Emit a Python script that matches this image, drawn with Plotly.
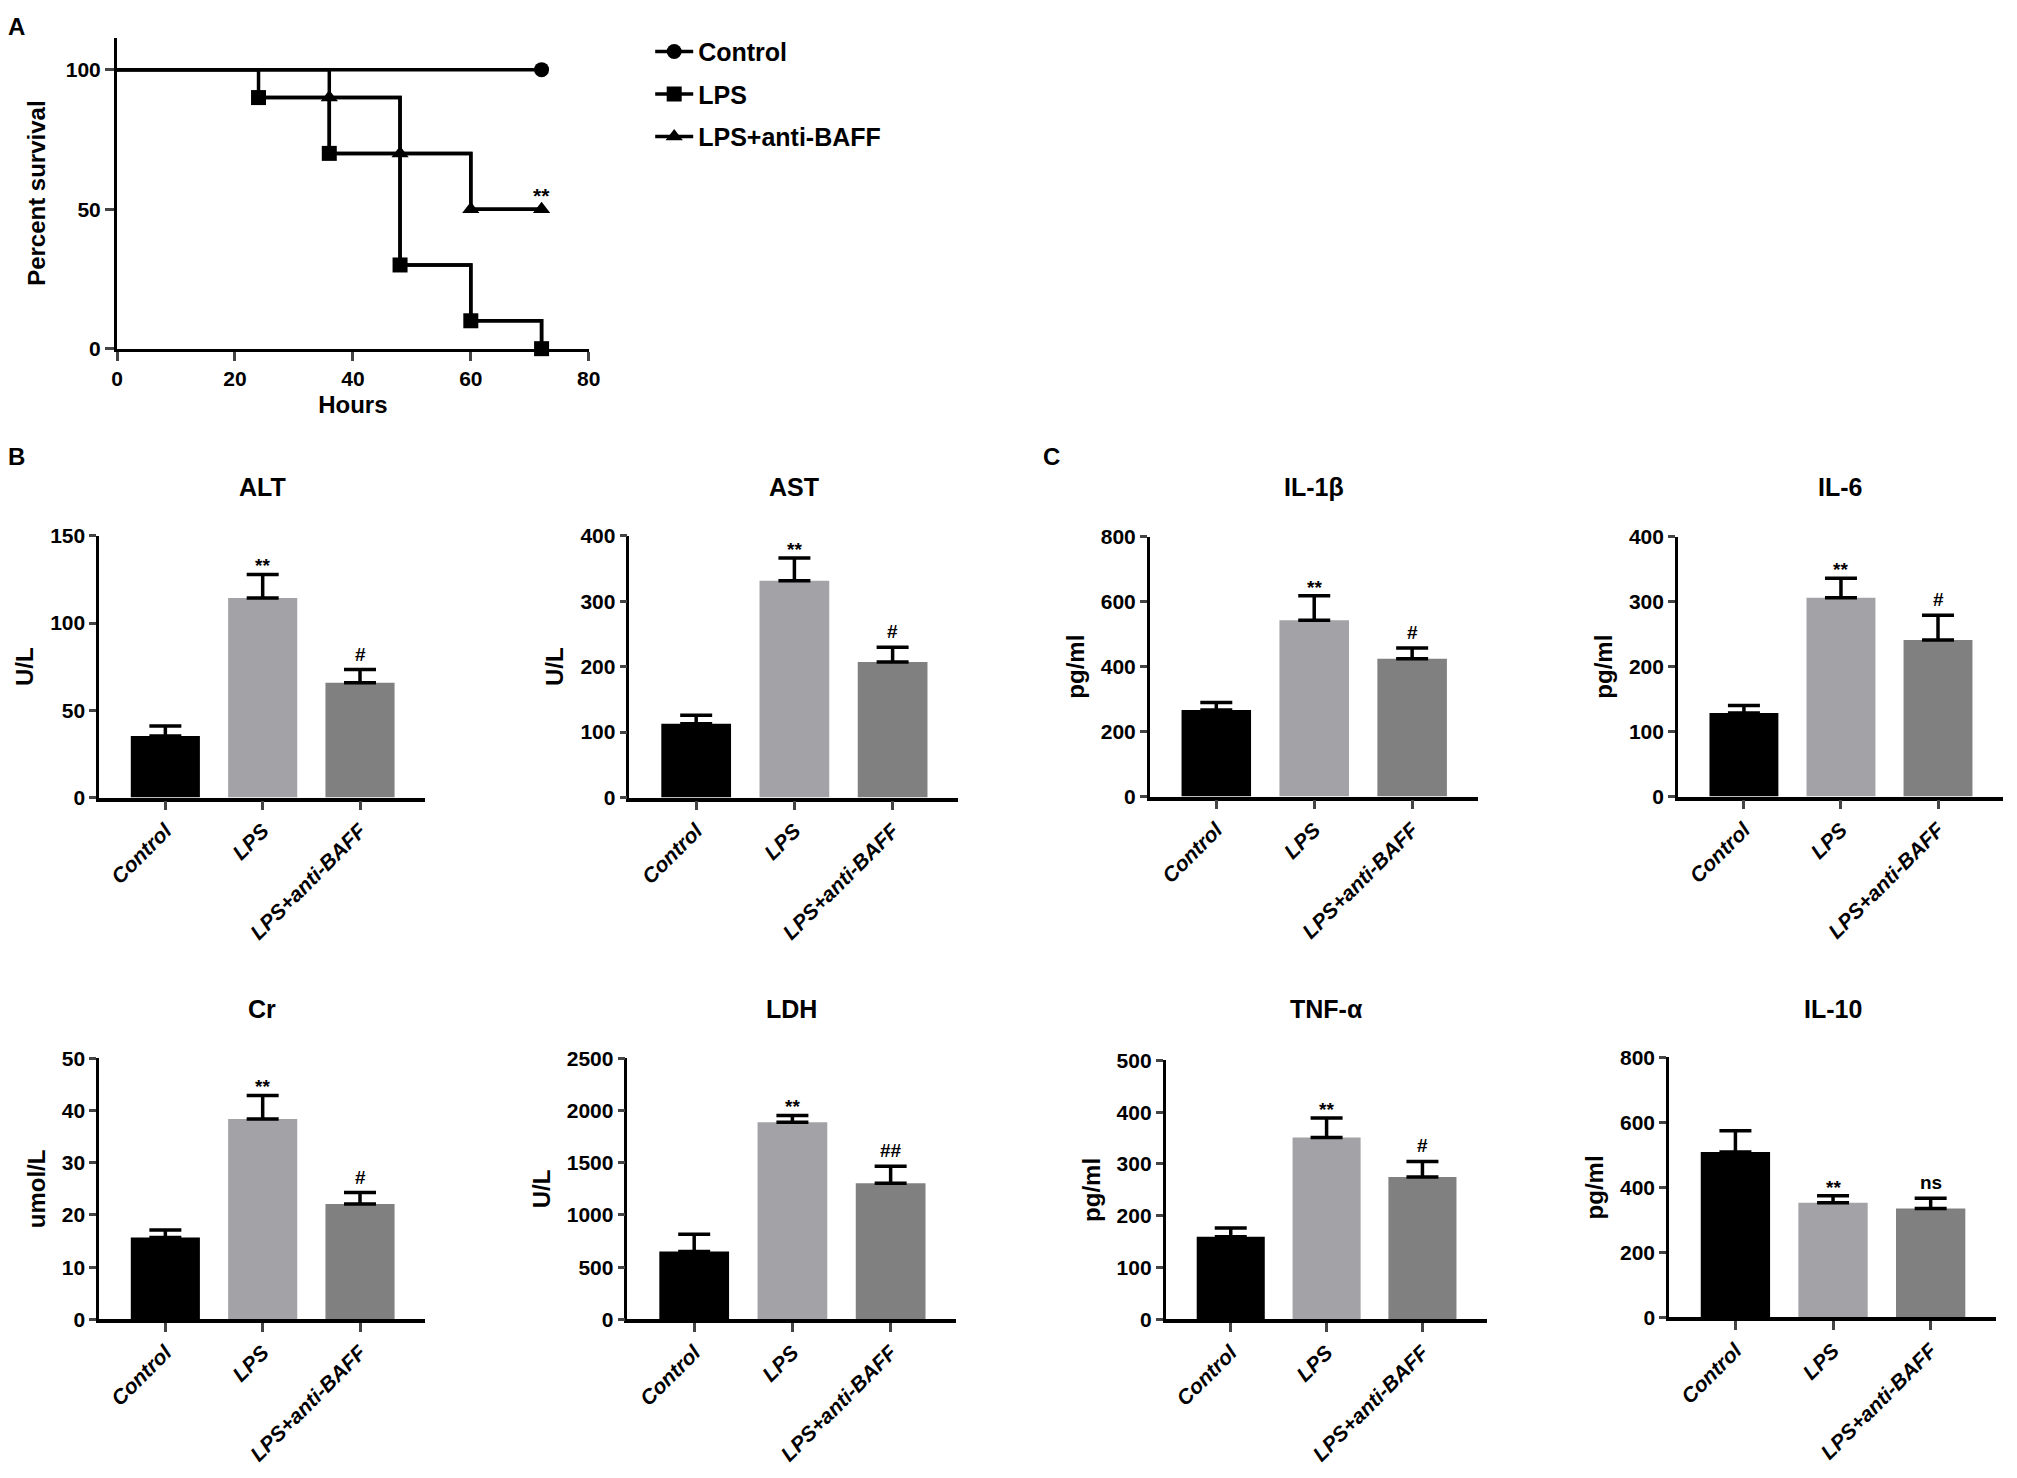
import plotly.graph_objects as go

W, H = 2017, 1478

# ---- panel A: survival curves ----
hours_control = [0, 72]
survival_control = [100, 100]
hours_lps = [0, 24, 36, 48, 60, 72]
survival_lps = [100, 90, 70, 30, 10, 0]
hours_anti = [0, 36, 48, 60, 72]
survival_anti = [100, 90, 70, 50, 50]

# ---- panels B and C: bar charts (mean + upper SD) ----
groups = ["Control", "LPS", "LPS+anti-BAFF"]

alt_mean = [35.3, 114.3, 65.8]
alt_err = [5.7, 13.5, 7.5]
alt_sig = ["", "**", "#"]

ast_mean = [112.8, 331.3, 207.0]
ast_err = [13.0, 34.7, 22.6]
ast_sig = ["", "**", "#"]

cr_mean = [15.7, 38.4, 22.1]
cr_err = [1.4, 4.5, 2.2]
cr_sig = ["", "**", "#"]

ldh_mean = [649, 1888, 1305]
ldh_err = [167, 66, 163]
ldh_sig = ["", "**", "##"]

il1b_mean = [266.7, 543, 424]
il1b_err = [23.3, 75, 33.6]
il1b_sig = ["", "**", "#"]

il6_mean = [128.8, 306, 241]
il6_err = [11.6, 30, 38]
il6_sig = ["", "**", "#"]

tnf_mean = [159.5, 351, 275]
tnf_err = [17.1, 37.6, 30]
tnf_sig = ["", "**", "#"]

il10_mean = [509, 352.5, 335]
il10_err = [65.7, 22.2, 32]
il10_sig = ["", "**", "ns"]

bar_colors = ["#000000", "#a2a2a7", "#808080"]
FONT = "Liberation Sans, Arial, sans-serif"


def fx(px):
    return px / W


def fy(py):
    return 1 - py / H


fig = go.Figure()

# survival curves: full step line, then the event markers (this one carries the legend entry)
for name, hx, sy, symbol in [("Control", hours_control, survival_control, "circle"),
                             ("LPS", hours_lps, survival_lps, "square"),
                             ("LPS+anti-BAFF", hours_anti, survival_anti, "triangle-up")]:
    fig.add_trace(go.Scatter(
        x=hx, y=sy, mode="lines", line_shape="hv", line=dict(color="black", width=3.5),
        showlegend=False, hoverinfo="skip", xaxis="x", yaxis="y",
    ))
    fig.add_trace(go.Scatter(
        x=hx[1:], y=sy[1:], name=name, mode="lines+markers", line_shape="hv",
        line=dict(color="black", width=3.5),
        marker=dict(symbol=symbol, size=15, color="black"),
        cliponaxis=False, legendgroup=name, xaxis="x", yaxis="y",
    ))

fig.update_layout(
    xaxis=dict(domain=[fx(112), fx(588)], anchor="y", range=[0, 80], dtick=20,
               showline=True, linewidth=3, linecolor="black", ticks="outside", ticklen=9,
               tickwidth=3, tickfont=dict(size=21, weight="bold"), showgrid=False, zeroline=False,
               title=dict(text="Hours", font=dict(size=24, weight="bold"), standoff=8)),
    yaxis=dict(domain=[fy(342), fy(26)], anchor="x", range=[0, 111.5], tickvals=[0, 50, 100],
               showline=True, linewidth=3, linecolor="black", ticks="outside", ticklen=9,
               tickwidth=3, tickfont=dict(size=21, weight="bold"), showgrid=False, zeroline=False,
               title=dict(text="Percent survival", font=dict(size=24, weight="bold"), standoff=14)),
)
fig.add_annotation(x=hours_anti[-1], y=survival_anti[-1], xref="x", yref="y", text="**",
                   showarrow=False, yanchor="bottom", yshift=0, font=dict(size=21, weight="bold"))

# bar panels: (title, unit, mean, err, sig, ymax, dtick, left px, top px, bottom px, width px)
panels = [
    ("ALT", "U/L", alt_mean, alt_err, alt_sig, 150, 50, 94, 532, 798, 329),
    ("AST", "U/L", ast_mean, ast_err, ast_sig, 400, 100, 629, 532, 798, 332),
    ("IL-1β", "pg/ml", il1b_mean, il1b_err, il1b_sig, 800, 200, 1154, 533, 797, 331),
    ("IL-6", "pg/ml", il6_mean, il6_err, il6_sig, 400, 100, 1687, 533, 797, 328),
    ("Cr", "umol/L", cr_mean, cr_err, cr_sig, 50, 10, 94, 1063, 1328, 329),
    ("LDH", "U/L", ldh_mean, ldh_err, ldh_sig, 2500, 500, 627, 1063, 1328, 332),
    ("TNF-α", "pg/ml", tnf_mean, tnf_err, tnf_sig, 500, 100, 1170, 1065, 1328, 324),
    ("IL-10", "pg/ml", il10_mean, il10_err, il10_sig, 800, 200, 1678, 1062, 1326, 330),
]

for k, (title, unit, mean, err, sig, ymax, dtick, left, top, bottom, width) in enumerate(panels):
    i = k + 2
    fig.add_trace(go.Bar(
        x=groups, y=mean, marker=dict(color=bar_colors, line=dict(width=0)), width=0.71,
        error_y=dict(type="data", array=err, arrayminus=[0] * len(err), symmetric=False,
                     color="black", thickness=3.5, width=16),
        xaxis=f"x{i}", yaxis=f"y{i}", showlegend=False,
    ))
    fig.layout[f"xaxis{i}"] = dict(
        domain=[fx(left), fx(left + width)], anchor=f"y{i}", range=[-0.68, 2.67],
        showline=True, linewidth=3.5, linecolor="black", ticks="outside", ticklen=9, tickwidth=3,
        tickangle=-45, tickfont=dict(size=21, weight="bold", style="italic"),
        showgrid=False, zeroline=False)
    fig.layout[f"yaxis{i}"] = dict(
        domain=[fy(bottom), fy(top)], anchor=f"x{i}", range=[0, ymax], dtick=dtick,
        showline=True, linewidth=2.5, linecolor="black", ticks="outside", ticklen=7, tickwidth=2.5,
        tickfont=dict(size=21, weight="bold"), showgrid=False, zeroline=False,
        title=dict(text=unit, font=dict(size=24, weight="bold"), standoff=10))
    title_y = 483 if top < 900 else 1013
    fig.add_annotation(x=0.5, y=fy(title_y), xref=f"x{i} domain", yref="paper", text=title,
                       showarrow=False, yanchor="middle", font=dict(size=25, weight="bold"))
    for j, s in enumerate(sig):
        if s:
            fig.add_annotation(x=groups[j], y=mean[j] + err[j], xref=f"x{i}", yref=f"y{i}",
                               text=s, showarrow=False, yanchor="bottom",
                               yshift=-4 if s == "**" else 3,
                               font=dict(size=19, weight="bold"))

# panel letters
for letter, px, py in [("A", 11, 15), ("B", 11, 452), ("C", 1055, 452)]:
    fig.add_annotation(x=fx(px), y=fy(py), xref="paper", yref="paper", text=letter,
                       showarrow=False, xanchor="center", yanchor="middle",
                       font=dict(size=24, weight="bold"))

fig.update_layout(
    width=W, height=H, margin=dict(l=0, r=0, t=0, b=0),
    paper_bgcolor="white", plot_bgcolor="white",
    font=dict(family=FONT, color="black"),
    legend=dict(x=fx(650), y=fy(17), xanchor="left", yanchor="top", bgcolor="rgba(0,0,0,0)",
                font=dict(size=25, weight="bold"), itemwidth=38, tracegroupgap=7),
)

# page body margin and scrollbars off so the figure fills the window exactly; no modebar
page_fix = ("document.body.style.margin='0';"
            "document.body.style.overflow='hidden';"
            "document.documentElement.style.overflow='hidden';")
fig.write_html("out.html", config={"displayModeBar": False}, post_script=page_fix)
